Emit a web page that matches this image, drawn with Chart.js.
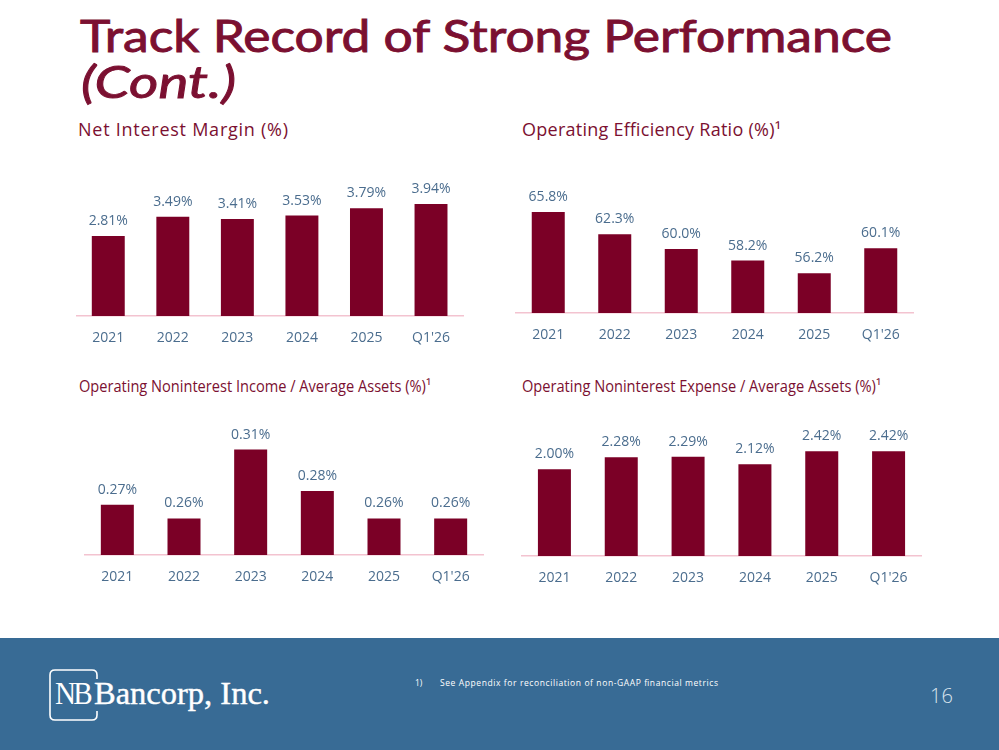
<!DOCTYPE html>
<html>
<head>
<meta charset="utf-8">
<script src="https://cdn.jsdelivr.net/npm/chart.js@4.4.1/dist/chart.umd.min.js"></script>
<style>
body{margin:0;width:999px;height:750px;position:relative;background:#fff;overflow:hidden}
svg{position:absolute;left:0;top:0}
canvas{position:absolute}
</style>
</head>
<body>
<svg width="999" height="750">
  <text x="80" y="52" font-family="Lato" font-size="44" fill="#7b1031" stroke="#7b1031" stroke-width="0.9" textLength="812" lengthAdjust="spacingAndGlyphs">Track Record of Strong Performance</text>
  <text x="81" y="98" font-family="Lato" font-style="italic" font-size="44" fill="#7b1031" stroke="#7b1031" stroke-width="0.9" textLength="155" lengthAdjust="spacingAndGlyphs">(Cont.)</text>
  <text x="78" y="136" font-family="Open Sans" font-size="18" fill="#7b1031" textLength="210">Net Interest Margin (%)</text>
  <text x="522" y="136" font-family="Open Sans" font-size="18" fill="#7b1031" textLength="259">Operating Efficiency Ratio (%)¹</text>
  <text x="79" y="392" font-family="Open Sans" font-size="16" fill="#7b1031" textLength="352" lengthAdjust="spacingAndGlyphs">Operating Noninterest Income / Average Assets (%)¹</text>
  <text x="522" y="392" font-family="Open Sans" font-size="16" fill="#7b1031" textLength="359" lengthAdjust="spacingAndGlyphs">Operating Noninterest Expense / Average Assets (%)¹</text>
  <rect x="0" y="638" width="999" height="112" fill="#386b95"/>
  <path d="M97 679 L97 675 Q97 670 92 670 L55 670 Q50 670 50 675 L50 715 Q50 720 55 720 L92 720 Q97 720 97 715 L97 711" fill="none" stroke="#fff" stroke-width="1.6"/>
  <text x="55" y="704" font-family="Liberation Serif" font-size="32" fill="#fff" textLength="35" lengthAdjust="spacingAndGlyphs" letter-spacing="-3">NB</text>
  <text x="94" y="704" font-family="Liberation Serif" font-size="31" fill="#fff" stroke="#fff" stroke-width="0.4" textLength="176" lengthAdjust="spacingAndGlyphs">Bancorp, Inc.</text>
  <text x="415" y="686" font-family="Open Sans" font-size="8.5" fill="#fff">1)</text>
  <text x="440" y="686" font-family="Open Sans" font-size="8.5" fill="#fff" textLength="278">See Appendix for reconciliation of non-GAAP financial metrics</text>
  <text x="930" y="703" font-family="Open Sans" font-weight="300" font-size="20" fill="#dce5ee">16</text>
</svg>
<canvas id="nim"></canvas>
<canvas id="efficiency"></canvas>
<canvas id="income"></canvas>
<canvas id="expense"></canvas>
<script>
const categories=['2021','2022','2023','2024','2025',"Q1'26"]
const nimValues=[2.81,3.49,3.41,3.53,3.79,3.94]
const efficiencyValues=[65.8,62.3,60.0,58.2,56.2,60.1]
const incomeValues=[0.27,0.26,0.31,0.28,0.26,0.26]
const expenseValues=[2.00,2.28,2.29,2.12,2.42,2.42]

const barColor='#7b0026'
const textColor='#4b6d8e'
const axisColor='#f3c3d0'

// draws the value above each bar, like the slide's data labels
const barLabels={
    id:'barLabels',
    afterDatasetsDraw(chart,args,opts){
        const ctx=chart.ctx
        const data=chart.data.datasets[0].data
        ctx.save()
        ctx.font='14px "Open Sans"'
        ctx.fillStyle=textColor
        ctx.textAlign='center'
        ctx.textBaseline='middle'
        chart.getDatasetMeta(0).data.forEach((bar,i)=>{
            ctx.fillText(data[i].toFixed(opts.decimals)+'%',bar.x,bar.y-15)
        })
        ctx.restore()
    }
}

function makeChart(id,values,box){
    const el=document.getElementById(id)
    const padTop=40, below=49
    el.width=Math.round(box.r-box.l)
    el.height=Math.round(box.b-box.t)+padTop+below
    el.style.left=box.l+'px'
    el.style.top=(Math.round(box.t)-padTop)+'px'
    const catW=(box.r-box.l)/categories.length
    return new Chart(el,{
        type:'bar',
        data:{
            labels:categories,
            datasets:[{
                data:values,
                backgroundColor:barColor,
                barPercentage:33/catW,
                categoryPercentage:1
            }]
        },
        plugins:[barLabels],
        options:{
            responsive:false,
            animation:false,
            layout:{padding:{top:padTop,bottom:3.2,left:0,right:0}},
            plugins:{
                legend:{display:false},
                tooltip:{enabled:false},
                barLabels:{decimals:box.decimals}
            },
            scales:{
                x:{
                    grid:{display:false,drawTicks:false},
                    border:{display:true,color:axisColor,width:1.5},
                    ticks:{color:textColor,font:{family:'Open Sans',size:14},padding:14}
                },
                y:{
                    display:false,
                    min:box.min,
                    max:box.max
                }
            }
        }
    })
}

makeChart('nim',nimValues,{l:76,r:464,t:187.5,b:314,min:0,max:4.5,decimals:2})
makeChart('efficiency',efficiencyValues,{l:515,r:914,t:185,b:312,min:50,max:70,decimals:1})
makeChart('income',incomeValues,{l:84,r:484,t:421.5,b:553,min:0.2335,max:0.33,decimals:2})
makeChart('expense',expenseValues,{l:521,r:922,t:425.5,b:554,min:0,max:3,decimals:2})
</script>
</body>
</html>
